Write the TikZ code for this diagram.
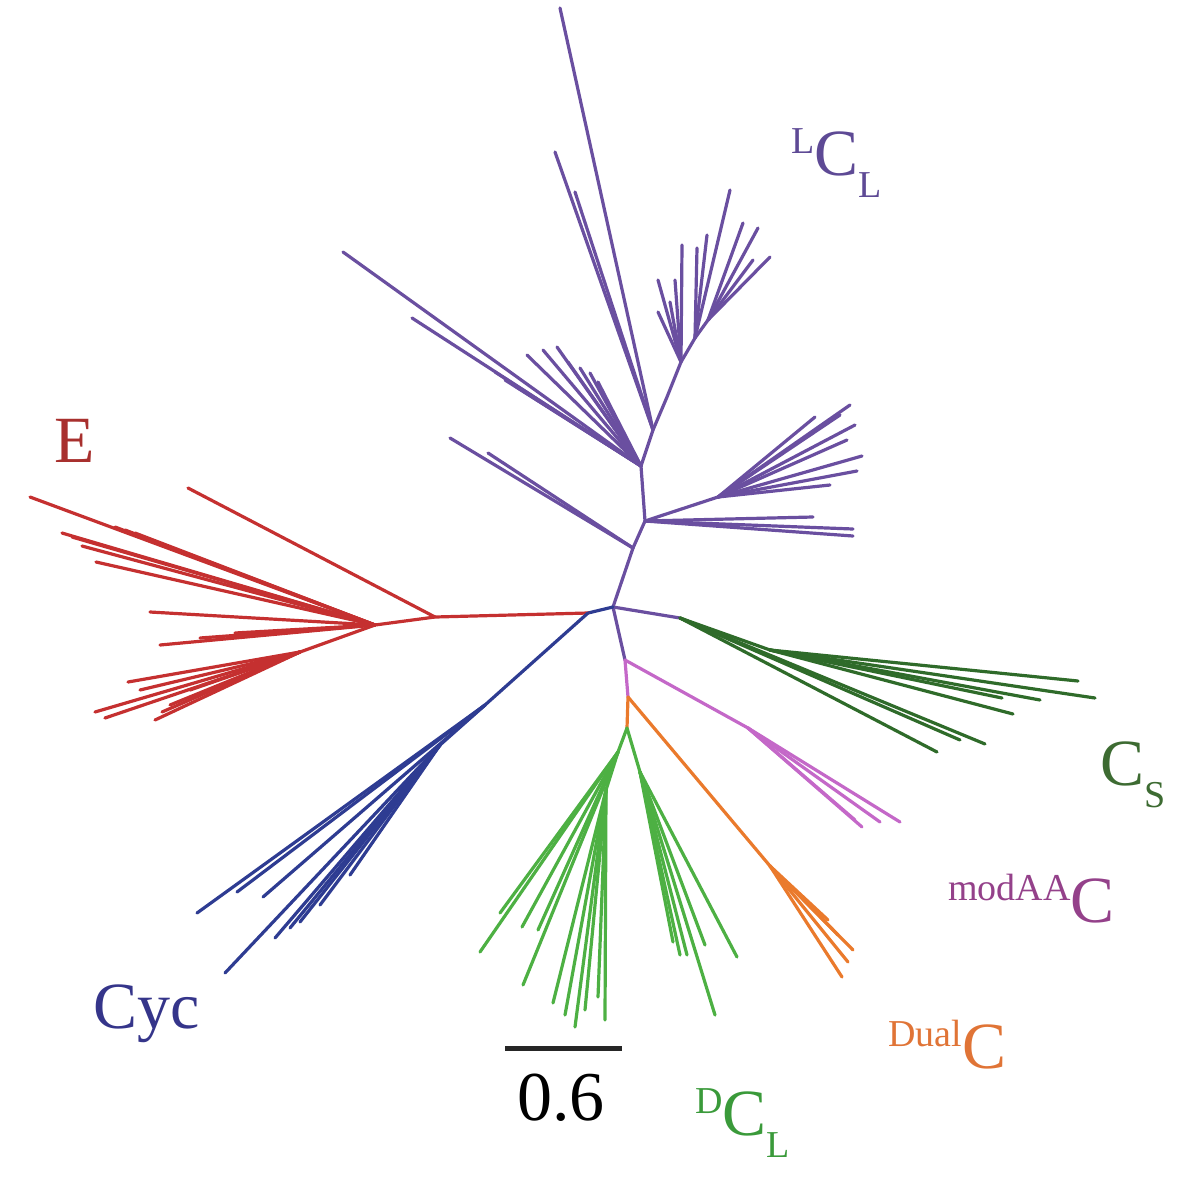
\documentclass[tikz,border=0pt]{standalone}
\usepackage{fontspec}
\setmainfont{Liberation Serif}
\definecolor{purp}{HTML}{6A4FA0}
\definecolor{redc}{HTML}{C53030}
\definecolor{bluec}{HTML}{2E3C92}
\definecolor{dgreen}{HTML}{2F6B2A}
\definecolor{pinkc}{HTML}{C468C8}
\definecolor{orangec}{HTML}{EA7A2C}
\definecolor{lgreen}{HTML}{4DB043}
\definecolor{labred}{HTML}{A8302E}
\definecolor{labpurp}{HTML}{5E4A95}
\definecolor{labdgreen}{HTML}{3D6B32}
\definecolor{labpink}{HTML}{94418A}
\definecolor{laborange}{HTML}{E07436}
\definecolor{labgreen}{HTML}{3A9A3A}
\definecolor{labblue}{HTML}{35358A}
\newcommand\bigfont{\fontsize{66}{70}\selectfont}
\newcommand\smallfont{\fontsize{38}{40}\selectfont}
\newcommand\upsc[1]{\raisebox{22pt}{\smallfont #1}}
\newcommand\dnsc[1]{\raisebox{-22pt}{\smallfont #1}}
\tikzset{
  branch/.style={line width=3.2pt, line cap=round, line join=round},
  clade/.style={font=\bigfont, inner sep=0pt, anchor=base west}
}
\begin{document}
\begin{tikzpicture}[x=1pt, y=-1pt]
\useasboundingbox (0,0) rectangle (1181,1176);

% inner nodes of the tree
\coordinate (root) at (613,607);
\coordinate (rb) at (588,613);
\coordinate (e1) at (435,617);
\coordinate (e2) at (375,625);
\coordinate (el) at (300,652);
\coordinate (cy) at (485,705);
\coordinate (cy2) at (440,745);
\coordinate (p1) at (633,548);
\coordinate (p2) at (645,521);
\coordinate (p3) at (641,466);
\coordinate (p4) at (653,430);
\coordinate (p5) at (667,397);
\coordinate (p6) at (681,362);
\coordinate (p7) at (695,338);
\coordinate (p8) at (708,320);
\coordinate (pr) at (718,497);
\coordinate (cs) at (680,618);
\coordinate (cs2) at (770,650);
\coordinate (mp) at (625,660);
\coordinate (pk) at (748,728);
\coordinate (ob) at (628,697);
\coordinate (oj) at (770,866);
\coordinate (dg) at (627,728);
\coordinate (gl) at (618,752);
\coordinate (gl2) at (606,790);
\coordinate (gr) at (640,772);

% backbone
\draw[branch, purp] (root) -- (p1) -- (p2) -- (p3) -- (p4) -- (p5) -- (p6) -- (p7) -- (p8);
\draw[branch, purp] (p2) -- (pr);
\draw[branch, purp] (root) -- (cs);
\draw[branch, purp] (root) -- (mp);
\draw[branch, bluec] (root) -- (rb);
\draw[branch, pinkc] (mp) -- (ob);
\draw[branch, orangec] (ob) -- (dg);

% E
\draw[branch, redc] (rb) -- (e1) -- (e2) -- (el);
\draw[branch, redc] (e1) -- (188,488);
\foreach \x/\y in {30/497, 62/533, 72/537, 82/546, 96/562, 115/527, 125/530, 135/533, 150/612, 160/645, 200/638, 235/633}
  \draw[branch, redc] (e2) -- (\x,\y);
\foreach \x/\y in {95/712, 105/718, 128/682, 140/690, 155/720, 162/712, 170/705, 190/690}
  \draw[branch, redc] (el) -- (\x,\y);

% Cyc
\draw[branch, bluec] (rb) -- (cy) -- (cy2);
\foreach \x/\y in {197/913, 237/892, 263/897}
  \draw[branch, bluec] (cy) -- (\x,\y);
\foreach \x/\y in {225/973, 275/938, 290/928, 300/922, 320/905, 350/875}
  \draw[branch, bluec] (cy2) -- (\x,\y);

% LCL
\foreach \x/\y in {450/438, 488/453}
  \draw[branch, purp] (p1) -- (\x,\y);
\foreach \x/\y in {343/252, 412/318, 495/372, 505/380, 515/386, 527/355, 543/350, 557/347, 568/362, 580/368, 590/373, 598/382}
  \draw[branch, purp] (p3) -- (\x,\y);
\foreach \x/\y in {560/8, 555/152, 575/192}
  \draw[branch, purp] (p4) -- (\x,\y);
\foreach \x/\y in {658/280, 658/312, 670/302, 675/280, 682/245}
  \draw[branch, purp] (p6) -- (\x,\y);
\foreach \x/\y in {697/248, 707/235, 730/190}
  \draw[branch, purp] (p7) -- (\x,\y);
\foreach \x/\y in {743/223, 758/228, 770/257, 753/260}
  \draw[branch, purp] (p8) -- (\x,\y);
\foreach \x/\y in {850/405, 855/425, 847/440, 862/456, 857/471, 830/485, 815/417, 840/415}
  \draw[branch, purp] (pr) -- (\x,\y);
\foreach \x/\y in {813/517, 853/529, 853/536}
  \draw[branch, purp] (p2) -- (\x,\y);

% CS
\draw[branch, dgreen] (cs) -- (cs2);
\foreach \x/\y in {985/744, 937/752, 960/740}
  \draw[branch, dgreen] (cs) -- (\x,\y);
\foreach \x/\y in {1078/681, 1095/698, 1002/698, 1013/714, 1040/700}
  \draw[branch, dgreen] (cs2) -- (\x,\y);

% modAAC
\draw[branch, pinkc] (mp) -- (pk);
\foreach \x/\y in {900/822, 880/822, 862/827, 855/820}
  \draw[branch, pinkc] (pk) -- (\x,\y);

% DualC
\draw[branch, orangec] (ob) -- (oj);
\foreach \x/\y in {842/977, 848/962, 853/950, 838/935, 828/920}
  \draw[branch, orangec] (oj) -- (\x,\y);

% DCL
\draw[branch, lgreen] (dg) -- (gl) -- (gl2);
\draw[branch, lgreen] (dg) -- (gr);
\foreach \x/\y in {480/952, 500/913, 522/927, 538/930, 523/985}
  \draw[branch, lgreen] (gl) -- (\x,\y);
\foreach \x/\y in {553/1003, 565/1015, 575/1027, 585/1010, 598/997, 605/1020}
  \draw[branch, lgreen] (gl2) -- (\x,\y);
\foreach \x/\y in {673/942, 680/955, 687/955, 705/945, 715/1015, 737/957}
  \draw[branch, lgreen] (gr) -- (\x,\y);

% scale bar
\coordinate (sa) at (505,1048);
\coordinate (sb) at (622,1048);
\draw[line width=5pt, black!85] (sa) -- (sb);
\node[font=\fontsize{70}{74}\selectfont, inner sep=0pt, anchor=base] (scale) at (561,1120) {0.6};

% clade labels
\node[clade, text=labred] (labE) at (54,462) {E};
\node[clade, text=labpurp] (labLCL) at (791,175) {\upsc{L}C\dnsc{L}};
\node[clade, text=labdgreen] (labCS) at (1100,785) {C\dnsc{S}};
\node[clade, text=labpink] (labmod) at (948,922) {\upsc{modAA}C};
\node[clade, text=laborange] (labdual) at (888,1068) {\upsc{Dual}C};
\node[clade, text=labgreen] (labDCL) at (695,1135) {\upsc{D}C\dnsc{L}};
\node[clade, text=labblue] (labcyc) at (93,1028) {Cyc};
\end{tikzpicture}
\end{document}
